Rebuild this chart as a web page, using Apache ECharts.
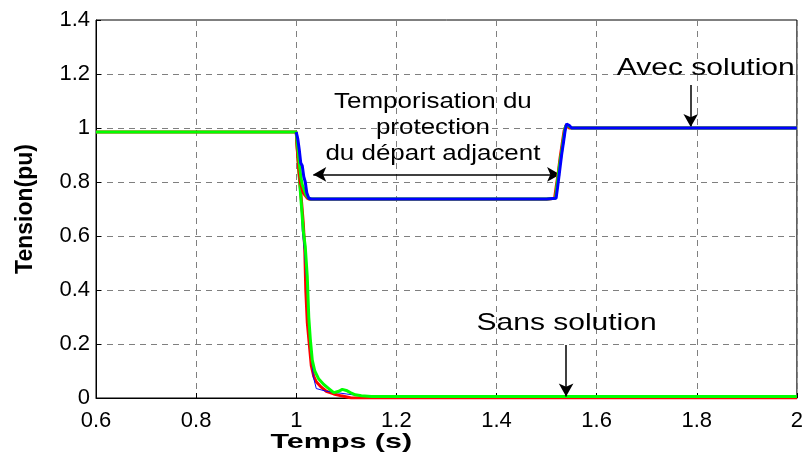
<!DOCTYPE html>
<html>
<head>
<meta charset="utf-8">
<script src="https://cdn.jsdelivr.net/npm/echarts@6/dist/echarts.min.js"></script>
<style>
html,body{margin:0;padding:0;background:#fff;}
#c{width:806px;height:459px;}
</style>
</head>
<body>
<div id="c"></div>
<script>
// ---- Data ----
var xTicks = [0.6, 0.8, 1.0, 1.2, 1.4, 1.6, 1.8, 2.0];
var yTicks = [0, 0.2, 0.4, 0.6, 0.8, 1.0, 1.2, 1.4];

// "Sans solution" traces
var tSansRed   = [0.6,1.0,1.002,1.004,1.007,1.010,1.014,1.017,1.019,1.022,1.026,1.030,1.035,1.040,1.050,1.060,1.075,1.090,1.110,2.0];
var vSansRed   = [0.985,0.985,0.93,0.88,0.80,0.74,0.65,0.55,0.40,0.28,0.20,0.12,0.08,0.06,0.04,0.025,0.015,0.008,0.0,0.0];
var tSansGreen = [0.6,1.0,1.003,1.006,1.010,1.014,1.018,1.022,1.025,1.028,1.032,1.037,1.045,1.055,1.065,1.075,1.085,1.092,1.100,1.108,1.118,1.130,1.150,2.0];
var vSansGreen = [0.985,0.985,0.90,0.82,0.72,0.62,0.56,0.45,0.30,0.22,0.14,0.10,0.07,0.05,0.035,0.02,0.025,0.032,0.028,0.02,0.012,0.008,0.006,0.006];
var tSansBlue  = [0.6,1.0,1.004,1.008,1.012,1.016,1.020,1.024,1.027,1.030,1.034,1.040,1.060,1.080,1.100,1.120,1.150,2.0];
var vSansBlue  = [0.985,0.985,0.90,0.80,0.62,0.55,0.45,0.34,0.22,0.16,0.08,0.035,0.025,0.02,0.015,0.01,0.004,0.004];

// "Avec solution" traces
var tAvecRed   = [1.0,1.002,1.005,1.008,1.011,1.014,1.018,1.022,1.026,1.10,1.30,1.50,1.516,1.519,1.523,1.527,1.531,1.535,1.539,1.545,1.55,2.0];
var vAvecRed   = [0.985,0.92,0.85,0.80,0.78,0.76,0.75,0.74,0.736,0.736,0.736,0.736,0.74,0.78,0.83,0.89,0.94,0.99,1.01,1.0,1.0,1.0];
var tAvecGreen = [1.0,1.003,1.006,1.009,1.012,1.016,1.020,1.024,1.028,1.10,1.30,1.50,1.518,1.521,1.525,1.529,1.533,1.537,1.540,1.546,1.55,2.0];
var vAvecGreen = [0.985,0.93,0.87,0.82,0.79,0.77,0.75,0.742,0.737,0.737,0.737,0.737,0.74,0.79,0.85,0.90,0.95,1.0,1.012,1.005,1.0,1.0];
var tAvecBlue  = [1.0,1.003,1.006,1.009,1.012,1.015,1.018,1.021,1.025,1.03,1.10,1.30,1.50,1.519,1.522,1.526,1.530,1.534,1.537,1.540,1.545,1.550,2.0];
var vAvecBlue  = [0.985,0.96,0.92,0.87,0.86,0.82,0.80,0.76,0.74,0.737,0.737,0.737,0.737,0.74,0.78,0.84,0.90,0.95,0.99,1.015,1.01,1.0,1.0];

// Annotations (data coordinates)
var arrowTempo = [[1.034, 0.828], [1.527, 0.828]];
var arrowAvec  = [[1.788, 1.159], [1.788, 1.004]];
var arrowSans  = [[1.539, 0.196], [1.539, 0.006]];
var textTempo  = {pos: [1.273, 1.0], text: 'Temporisation du\nprotection\ndu départ adjacent'};
var textAvec   = {pos: [1.818, 1.222], text: 'Avec solution'};
var textSans   = {pos: [1.54, 0.278], text: 'Sans solution'};

function pairs(t, v) { return t.map(function (x, i) { return [x, v[i]]; }); }

var FONT = '"Liberation Sans", Arial, sans-serif';

function lineSeries(name, t, v, color, width, z) {
  return {
    name: name, type: 'line', data: pairs(t, v), showSymbol: false, symbol: 'none',
    lineStyle: {color: color, width: width}, z: z, animation: false
  };
}

var annoSeries = {
  type: 'line', data: [], z: 20, silent: true, animation: false,
  markLine: {
    silent: true, animation: false, symbolSize: [11, 13],
    lineStyle: {color: '#000', width: 1.5, type: 'solid'},
    label: {show: false},
    data: [
      [{coord: arrowTempo[0], symbol: 'arrow'}, {coord: arrowTempo[1], symbol: 'arrow'}],
      [{coord: arrowAvec[0], symbol: 'none'}, {coord: arrowAvec[1], symbol: 'arrow'}],
      [{coord: arrowSans[0], symbol: 'none'}, {coord: arrowSans[1], symbol: 'arrow'}]
    ]
  }
};

var chart = echarts.init(document.getElementById('c'), null, {renderer: 'canvas'});
chart.setOption({
  backgroundColor: '#fff',
  animation: false,
  grid: {left: 96, right: 9, top: 20, bottom: 61, show: true, borderColor: '#000', borderWidth: 1, backgroundColor: 'transparent'},
  xAxis: {
    type: 'value', min: xTicks[0], max: xTicks[xTicks.length - 1], interval: 0.2,
    axisLine: {show: true, lineStyle: {color: '#000', width: 1}},
    axisTick: {show: true, inside: true, length: 5, lineStyle: {color: '#000'}},
    axisLabel: {color: '#000', fontFamily: FONT, fontSize: 22, margin: 12,
      formatter: function (v) { return String(Math.round(v * 10) / 10); }},
    splitLine: {show: true, lineStyle: {color: '#7f7f7f', type: [6, 5], width: 1}}
  },
  yAxis: {
    type: 'value', min: yTicks[0], max: yTicks[yTicks.length - 1], interval: 0.2,
    name: 'Tension(pu)', nameLocation: 'middle', nameGap: 59,
    nameTextStyle: {color: '#000', fontFamily: FONT, fontSize: 23, fontWeight: 'bold'},
    axisLine: {show: true, lineStyle: {color: '#000', width: 1}},
    axisTick: {show: true, inside: true, length: 5, lineStyle: {color: '#000'}},
    axisLabel: {color: '#000', fontFamily: FONT, fontSize: 22, margin: 6,
      formatter: function (v) { return String(Math.round(v * 10) / 10); }},
    splitLine: {show: true, lineStyle: {color: '#7f7f7f', type: [6, 5], width: 1}}
  },
  series: [
    lineSeries('Sans rouge', tSansRed, vSansRed, '#ff0000', 3, 2),
    lineSeries('Sans bleu', tSansBlue, vSansBlue, '#0000ff', 1, 3),
    lineSeries('Sans vert', tSansGreen, vSansGreen, '#00ff00', 3, 4),
    lineSeries('Avec rouge', tAvecRed, vAvecRed, '#ff0000', 3, 5),
    lineSeries('Avec vert', tAvecGreen, vAvecGreen, '#00ff00', 3, 6),
    lineSeries('Avec bleu', tAvecBlue, vAvecBlue, '#0000ff', 3, 7),
    annoSeries
  ]
});

// Annotation texts anchored at data coordinates (stretched horizontally like the reference)
function annoText(item, size, sx) {
  var p = chart.convertToPixel({gridIndex: 0}, item.pos);
  return {
    type: 'text', x: p[0], y: p[1], scaleX: sx, z: 30, silent: true,
    style: {text: item.text, fill: '#000', font: size + 'px ' + FONT,
      align: 'center', verticalAlign: 'middle', textAlign: 'center', textVerticalAlign: 'middle', lineHeight: 26}
  };
}
var xMid = chart.convertToPixel({gridIndex: 0}, [1.09, 0])[0];
chart.setOption({
  graphic: [
    annoText(textTempo, 22, 1.18),
    annoText(textAvec, 24, 1.25),
    annoText(textSans, 24, 1.25),
    {
      type: 'text', x: xMid, y: 442, scaleX: 1.45, z: 30, silent: true,
      style: {text: 'Temps (s)', fill: '#000', font: 'bold 21px ' + FONT,
        align: 'center', verticalAlign: 'middle', textAlign: 'center', textVerticalAlign: 'middle'}
    }
  ]
});
</script>
</body>
</html>
